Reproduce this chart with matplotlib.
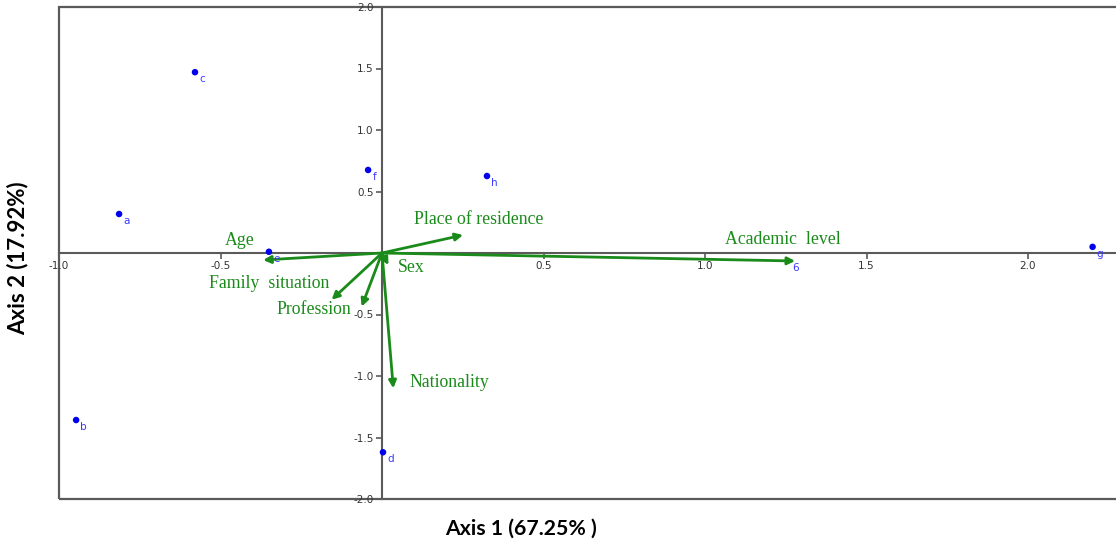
import numpy as np
import matplotlib
matplotlib.use("Agg")
from matplotlib import pyplot as plt
from matplotlib.patches import Rectangle

# individuals (blue points)
point_names = ["a", "b", "c", "d", "e", "f", "g", "h"]
point_x = [-0.814, -0.947, -0.579, 0.003, -0.35, -0.043, 2.20, 0.325]
point_y = [0.317, -1.358, 1.47, -1.62, 0.01, 0.675, 0.05, 0.626]

# variables (green arrows)
var_names = ["Academic  level", "Place of residence", "Age", "Family  situation",
             "Profession", "Sex", "Nationality"]
var_x = [1.279, 0.251, -0.368, -0.156, -0.063, 0.02, 0.035]
var_y = [-0.065, 0.146, -0.057, -0.38, -0.436, -0.098, -1.10]
# where each variable name is written
label_x = [1.24, 0.30, -0.44, -0.35, -0.21, 0.09, 0.21]
label_y = [0.11, 0.27, 0.10, -0.25, -0.46, -0.12, -1.05]

xticks = [-1.0, -0.5, 0.5, 1.0, 1.5, 2.0]
yticks = [-2.0, -1.5, -1.0, -0.5, 0.5, 1.0, 1.5, 2.0]

GREEN = "#1a8a1a"
AXCOL = "#5a5a5a"

fig = plt.figure(figsize=(11.16, 5.42), dpi=100)
ax = fig.add_axes([59 / 1116, 1 - 499 / 542, 1 - 59 / 1116, 492 / 542])
ax.set_xlim(-1.0, (1116 - 382) / 323)
ax.set_ylim(-2.0, 2.0)

# outer frame (right side is cut off by the image)
ax.add_patch(Rectangle((0, 0), 1.02, 1, transform=ax.transAxes, fill=False,
                       edgecolor=AXCOL, lw=1.6, clip_on=False, zorder=1))

for s in ["top", "right"]:
    ax.spines[s].set_visible(False)
ax.spines["left"].set_position(("data", 0))
ax.spines["bottom"].set_position(("data", 0))
for s in ["left", "bottom"]:
    ax.spines[s].set_color(AXCOL)
    ax.spines[s].set_linewidth(1.5)

ax.set_xticks(xticks)
ax.set_xticklabels(["%.1f" % v for v in xticks])
ax.set_yticks(yticks)
ax.set_yticklabels(["%.1f" % v for v in yticks])
ax.tick_params(axis="both", direction="out", length=4, width=1.2, color=AXCOL,
               labelsize=7.5, labelcolor="#333333", pad=2)

# variable arrows
for name, vx, vy, lx, ly in zip(var_names, var_x, var_y, label_x, label_y):
    ax.annotate("", xy=(vx, vy), xytext=(0, 0),
                arrowprops=dict(arrowstyle="-|>", color=GREEN, lw=2.0,
                                mutation_scale=11, shrinkA=0, shrinkB=0),
                zorder=3)
    ax.text(lx, ly, name, color=GREEN, fontsize=12.8, family="Liberation Serif",
            ha="center", va="center", zorder=4)

# individuals
ax.scatter(point_x, point_y, s=22, color="#0000ee", zorder=5, edgecolors="none")
for name, px, py in zip(point_names, point_x, point_y):
    ax.annotate(name, (px, py), xytext=(3, -5), textcoords="offset points",
                color="#3a3aff", fontsize=7.5, ha="left", va="center", zorder=5)
# label sitting under the tip of the academic level arrow
ax.annotate("6", (var_x[0], var_y[0]), xytext=(0, -5), textcoords="offset points",
            color="#3a3aff", fontsize=7.5, ha="center", va="center", zorder=5)

fig.text(521 / 1116, 1 - 529 / 542, "Axis 1 (67.25% )", family="Lato",
         fontweight="bold", fontsize=15.3, ha="center", va="center")
fig.text(18 / 1116, 1 - 258 / 542, "Axis 2 (17.92%)", family="Lato",
         fontweight="bold", fontsize=16, ha="center", va="center", rotation=90)

fig.savefig("out.png", dpi=100)
